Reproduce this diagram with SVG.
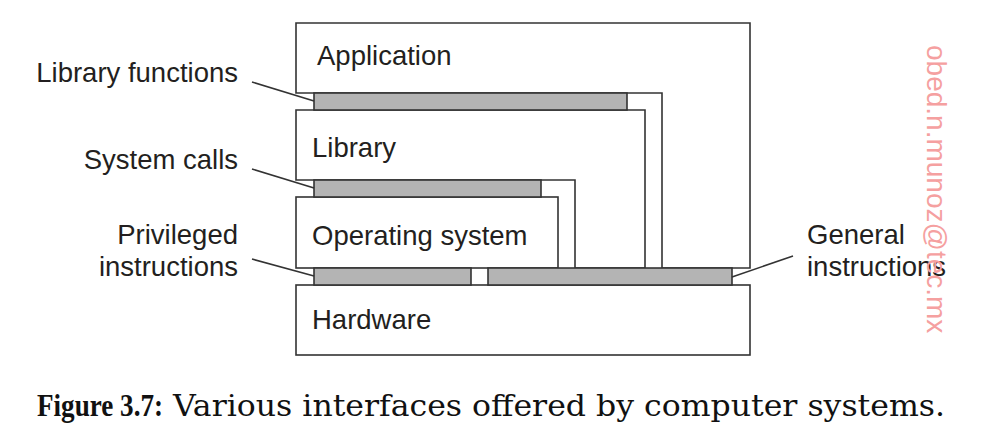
<svg xmlns="http://www.w3.org/2000/svg" width="996" height="434" viewBox="0 0 996 434">
<style>
.box{fill:#ffffff;stroke:#333333;stroke-width:1.6;stroke-linejoin:miter}
.bar{fill:#b4b4b4;stroke:#333333;stroke-width:1.6}
.lbl{font-family:"Liberation Sans",Arial,sans-serif;font-size:27.5px;fill:#231f20}
.lead{stroke:#333333;stroke-width:1.6;fill:none}
.wm{font-family:"Liberation Sans",Arial,sans-serif;font-size:28px;fill:#f5a0a0}
.capb{font-family:"Liberation Serif","Times New Roman",serif;font-size:31px;font-weight:bold;fill:#111111}
.cap{font-family:"DejaVu Serif","Liberation Serif",serif;font-size:30px;fill:#111111}
</style>
<rect width="996" height="434" fill="#ffffff"/>
<g id="application">
<polygon class="box" points="296,23 750,23 750,268 662,268 662,93 296,93"/>
<text class="lbl" x="317" y="65">Application</text>
</g>
<g id="library">
<polygon class="box" points="296,110 645,110 645,268 575,268 575,180 296,180"/>
<text class="lbl" x="312" y="157">Library</text>
</g>
<g id="operating-system">
<rect class="box" x="296" y="197" width="262" height="71"/>
<text class="lbl" x="312" y="245">Operating system</text>
</g>
<g id="hardware">
<rect class="box" x="296" y="285" width="454" height="70"/>
<text class="lbl" x="312" y="329">Hardware</text>
</g>
<g id="library-functions">
<rect class="bar" x="314" y="93" width="313" height="17"/>
<text class="lbl" x="238" y="82" text-anchor="end">Library functions</text>
</g>
<g id="system-calls">
<rect class="bar" x="314" y="180" width="227" height="17"/>
<text class="lbl" x="238" y="169" text-anchor="end">System calls</text>
</g>
<g id="privileged-instructions">
<rect class="bar" x="314" y="268" width="157" height="17"/>
<text class="lbl" x="238" y="244" text-anchor="end">Privileged</text>
<text class="lbl" x="238" y="276" text-anchor="end">instructions</text>
</g>
<g id="general-instructions">
<rect class="bar" x="488" y="268" width="244" height="17"/>
<text class="lbl" x="807" y="244">General</text>
<text class="lbl" x="807" y="276">instructions</text>
</g>
<g id="connectors">
<line class="lead" x1="252" y1="82" x2="314" y2="101"/>
<line class="lead" x1="252" y1="169" x2="314" y2="188"/>
<line class="lead" x1="252" y1="259" x2="314" y2="276"/>
<line class="lead" x1="732" y1="277" x2="793" y2="256"/>
</g>
<text class="wm" transform="translate(927,45) rotate(90)">obed.n.munoz@tec.mx</text>
<text class="capb" x="37" y="416" textLength="126" lengthAdjust="spacingAndGlyphs">Figure 3.7:</text>
<text class="cap" x="173" y="416" textLength="772" lengthAdjust="spacingAndGlyphs">Various interfaces offered by computer systems.</text>
</svg>
